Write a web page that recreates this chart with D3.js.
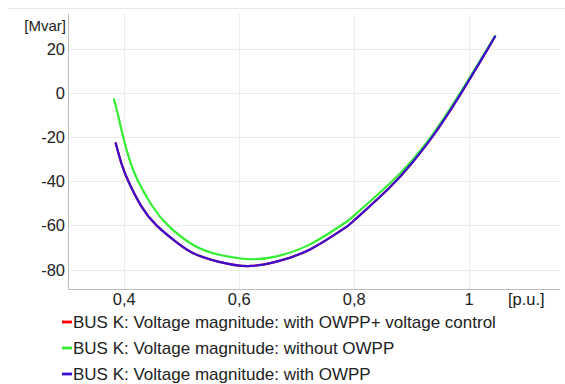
<!DOCTYPE html>
<html>
<head>
<meta charset="utf-8">
<script src="https://cdn.jsdelivr.net/npm/d3@7"></script>
<style>
  html, body { margin: 0; padding: 0; background: #fff; }
  #chart { width: 565px; height: 384px; }
  text { font-family: "Liberation Sans", Arial, sans-serif; fill: #222; }
</style>
</head>
<body>
<div id="chart"></div>
<script>
// Q over V at bus K
const voltageBlue = [0.385, 0.395, 0.407, 0.43, 0.456, 0.49, 0.52, 0.565, 0.615, 0.665, 0.723, 0.78, 0.8, 0.86, 0.9, 0.936, 0.98, 1.03, 1.045];
const qBlue       = [-22.8, -32, -40, -51.5, -60, -67.5, -72.6, -76.5, -78.4, -76.4, -70.9, -61.8, -57.7, -43.3, -31.9, -19.8, -2.6, 18.9, 25.5];

const voltageGreen = [0.382, 0.39, 0.398, 0.41, 0.424, 0.448, 0.476, 0.52, 0.565, 0.618, 0.665, 0.723, 0.78, 0.8, 0.86, 0.9, 0.936, 0.98, 1.03, 1.045];
const qGreen       = [-2.9, -11, -20, -31, -40, -51, -60, -68.9, -73.3, -75.3, -74, -68.6, -59.5, -55.5, -41.5, -30.8, -19, -1.8, 19.3, 25.7];

// the voltage-control case lies under the blue curve
const voltageRed = voltageBlue;
const qRed       = qBlue;

const xTicks = [0.4, 0.6, 0.8, 1.0];
const xTickLabels = ["0,4", "0,6", "0,8", "1"];
const yTicks = [20, 0, -20, -40, -60, -80];

const seriesNames = [
  "BUS K: Voltage magnitude: with OWPP+ voltage control",
  "BUS K: Voltage magnitude: without OWPP",
  "BUS K: Voltage magnitude: with OWPP"
];
const seriesColors = ["#ff0000", "#33ee33", "#3a10d0"];

(function () {
  const W = 565, H = 384;
  const left = 68, right = 560, top = 14, bottom = 289;

  const svg = d3.select("#chart").append("svg")
    .attr("width", W).attr("height", H);

  const x = d3.scaleLinear().domain([0.302, 1.158]).range([left, right]);
  const y = d3.scaleLinear().domain([-88.8, 35.7]).range([bottom, top]);

  // thin frame line at the top
  svg.append("line").attr("x1", 8).attr("x2", W).attr("y1", 8.5).attr("y2", 8.5)
    .attr("stroke", "#e6e6e6");

  // grid
  svg.append("g").selectAll("line").data(yTicks).enter().append("line")
    .attr("x1", left).attr("x2", right)
    .attr("y1", d => Math.round(y(d)) + 0.5).attr("y2", d => Math.round(y(d)) + 0.5)
    .attr("stroke", "#ececec");
  svg.append("g").selectAll("line").data(xTicks).enter().append("line")
    .attr("x1", d => Math.round(x(d)) + 0.5).attr("x2", d => Math.round(x(d)) + 0.5)
    .attr("y1", top).attr("y2", bottom)
    .attr("stroke", "#ececec");

  // axes (drawn by hand, the picture has no tick marks)
  svg.append("line").attr("x1", left + 0.5).attr("x2", left + 0.5).attr("y1", top).attr("y2", bottom)
    .attr("stroke", "#bdbdbd");
  svg.append("line").attr("x1", left).attr("x2", right).attr("y1", bottom + 0.5).attr("y2", bottom + 0.5)
    .attr("stroke", "#bdbdbd");

  svg.append("g").selectAll("text").data(yTicks).enter().append("text")
    .attr("x", 65).attr("y", d => y(d)).attr("dy", "0.36em")
    .attr("text-anchor", "end").style("font-size", "16.5px")
    .text(d => d);
  svg.append("text").attr("x", 66).attr("y", 31).attr("text-anchor", "end")
    .style("font-size", "15px").text("[Mvar]");

  svg.append("g").selectAll("text").data(xTicks).enter().append("text")
    .attr("x", d => x(d)).attr("y", 305)
    .attr("text-anchor", "middle").style("font-size", "16.5px")
    .text((d, i) => xTickLabels[i]);
  svg.append("text").attr("x", 508).attr("y", 305)
    .style("font-size", "16.5px").text("[p.u.]");

  // curves
  const line = d3.line().x(d => x(d[0])).y(d => y(d[1])).curve(d3.curveNatural);
  const series = [
    d3.zip(voltageRed, qRed),
    d3.zip(voltageGreen, qGreen),
    d3.zip(voltageBlue, qBlue)
  ];
  svg.append("g").selectAll("path").data(series).enter().append("path")
    .attr("d", line)
    .attr("fill", "none")
    .attr("stroke", (d, i) => seriesColors[i])
    .attr("stroke-width", 2.2)
    .attr("stroke-linecap", "round");

  // legend
  const lg = svg.append("g").selectAll("g").data(seriesNames).enter().append("g")
    .attr("transform", (d, i) => `translate(62,${328 + i * 26})`);
  lg.append("line").attr("x1", 0).attr("x2", 10).attr("y1", -6).attr("y2", -6)
    .attr("stroke", (d, i) => seriesColors[i]).attr("stroke-width", 2.8);
  lg.append("text").attr("x", 11).attr("y", 0)
    .style("font-size", "17px").text(d => d);
})();
</script>
</body>
</html>
